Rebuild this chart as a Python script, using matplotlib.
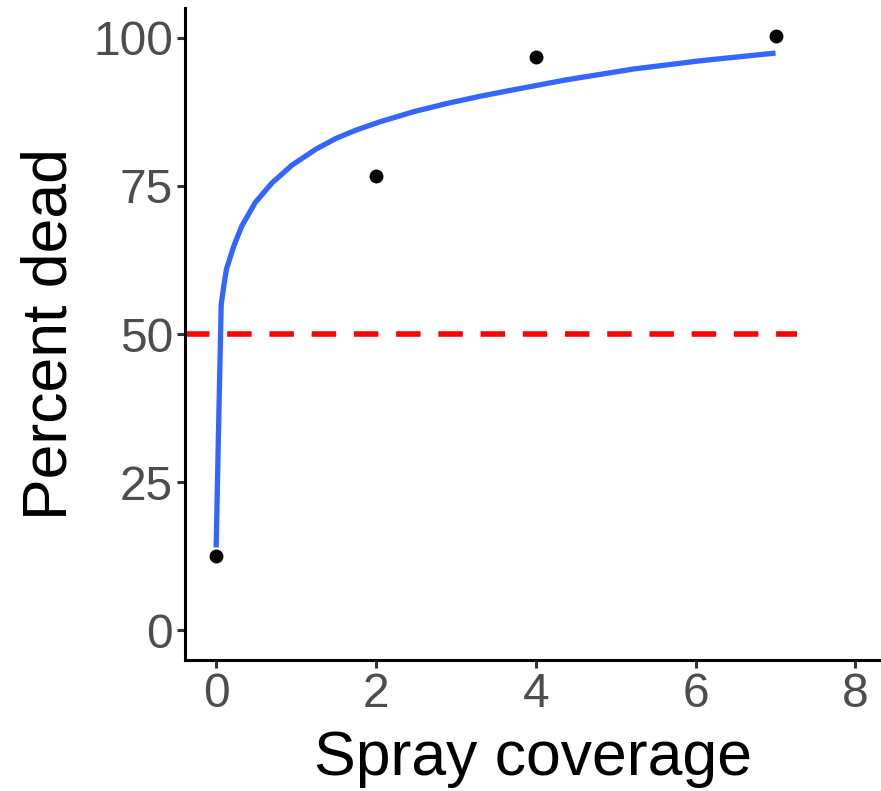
import matplotlib
matplotlib.use("Agg")
import matplotlib.pyplot as plt

# observed points
coverage = [0, 2, 4, 7]
percent_dead = [12.5, 76.7, 96.7, 100.2]

# fitted curve
curve_x = [0.0, 0.03, 0.063, 0.10, 0.13, 0.22, 0.32, 0.49, 0.70, 0.95, 1.25, 1.50,
           1.75, 2.05, 2.47, 2.89, 3.30, 3.72, 4.39, 5.22, 6.06, 7.0]
curve_y = [14.0, 34.0, 55.0, 58.5, 61.0, 64.8, 68.2, 72.2, 75.5, 78.5, 81.2, 83.0,
           84.4, 85.8, 87.5, 88.9, 90.1, 91.2, 92.9, 94.7, 96.1, 97.4]

# reference line
ref_level = 50
ref_x = [-0.39, 7.27]

x_ticks = [0, 2, 4, 6, 8]
y_ticks = [0, 25, 50, 75, 100]

plt.rcParams['font.family'] = ['Liberation Sans', 'DejaVu Sans']

fig = plt.figure(figsize=(8.81, 7.91), dpi=100)
ax = fig.add_axes([185/881, 1-660/791, (881-185)/881, (660-8)/791])

ax.plot(ref_x, [ref_level, ref_level], color='#FF0000', lw=4.0,
        linestyle=(0, (4.4, 3.2)), solid_capstyle='butt', dash_capstyle='butt', zorder=2)
ax.plot(curve_x, curve_y, color='#3366FF', lw=3.8, solid_joinstyle='round',
        solid_capstyle='butt', zorder=3)
ax.scatter(coverage, percent_dead, s=100, color='black', zorder=4, linewidths=0)

ax.set_xlim(-0.39, 8.32)
ax.set_ylim(-5, 105)
ax.set_xticks(x_ticks)
ax.set_yticks(y_ticks)

for s in ['top', 'right']:
    ax.spines[s].set_visible(False)
for s in ['left', 'bottom']:
    ax.spines[s].set_linewidth(2.2)
    ax.spines[s].set_color('black')
ax.tick_params(axis='both', length=5.5, width=2.2, color='#333333',
               labelsize=34.5, labelcolor='#4D4D4D', pad=3)

ax.set_xlabel('Spray coverage', fontsize=45, color='black', labelpad=9)
ax.set_ylabel('Percent dead', fontsize=45, color='black', labelpad=10)

fig.savefig('out.png', dpi=100)
